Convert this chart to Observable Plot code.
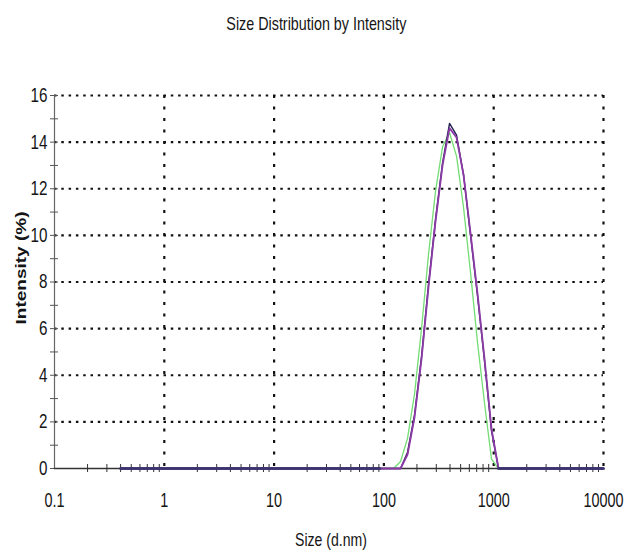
<!DOCTYPE html>
<html>
<head>
<meta charset="utf-8">
<script src="https://cdn.jsdelivr.net/npm/d3@7"></script>
<script src="https://cdn.jsdelivr.net/npm/@observablehq/plot@0.6"></script>
<style>
  html, body { margin: 0; padding: 0; background: #fff; }
  #wrap { width: 624px; height: 553px; position: relative; overflow: hidden; }
  #title { height: 44px; line-height: 48px; text-align: center; padding-left: 8px; }
  #title span { display: inline-block; font-family: "Liberation Sans", Arial, sans-serif; font-size: 19px; color: #151515; transform: scaleX(0.76); }
</style>
</head>
<body>
<div id="wrap">
  <div id="title"><span id="ttl">Size Distribution by Intensity</span></div>
  <div id="chart"></div>
</div>
<script>
// Size classes (d.nm)
const sizes = [0.4, 0.4632, 0.5365, 0.6213, 0.7195, 0.8332, 0.9649, 1.117, 1.294, 1.499,
  1.736, 2.01, 2.328, 2.696, 3.122, 3.615, 4.187, 4.849, 5.615, 6.503,
  7.531, 8.721, 10.1, 11.7, 13.54, 15.69, 18.17, 21.04, 24.36, 28.21,
  32.67, 37.84, 43.82, 50.75, 58.77, 68.06, 78.82, 91.28, 105.7, 122.4,
  141.8, 164.2, 190.1, 220.2, 255.0, 295.3, 342.0, 396.1, 458.7, 531.2,
  615.1, 712.4, 825.0, 955.4, 1106, 1281, 1484, 1718, 1990, 2305,
  2669, 3091, 3580, 4145, 4801, 5560, 6439, 7456, 8635, 10000];

// Intensity (%) per record
const recordNavy = [0,0,0,0,0,0,0,0,0,0, 0,0,0,0,0,0,0,0,0,0, 0,0,0,0,0,0,0,0,0,0,
  0,0,0,0,0,0,0,0,0,0, 0,0.7,2.3,4.8,7.9,10.7,13.1,14.8,14.3,12.6,
  10.0,7.4,4.6,1.6,0,0,0,0,0,0, 0,0,0,0,0,0,0,0,0,0];
const recordPurple = [0,0,0,0,0,0,0,0,0,0, 0,0,0,0,0,0,0,0,0,0, 0,0,0,0,0,0,0,0,0,0,
  0,0,0,0,0,0,0,0,0,0, 0,0.6,2.2,4.7,7.8,10.6,13.0,14.6,14.2,12.6,
  10.1,7.5,4.7,1.7,0,0,0,0,0,0, 0,0,0,0,0,0,0,0,0,0];
const recordGreen = [0,0,0,0,0,0,0,0,0,0, 0,0,0,0,0,0,0,0,0,0, 0,0,0,0,0,0,0,0,0,0,
  0,0,0,0,0,0,0,0,0,0, 0.3,1.3,3.2,6.0,9.2,11.9,13.8,14.4,13.4,11.2,
  8.4,5.4,2.8,0.4,0,0,0,0,0,0, 0,0,0,0,0,0,0,0,0,0];

const xTicks = [0.1, 1, 10, 100, 1000, 10000];
const xTickLabels = ["0.1", "1", "10", "100", "1000", "10000"];
const xGrid = [1, 10, 100, 1000, 10000];
const yTicks = [0, 2, 4, 6, 8, 10, 12, 14, 16];
const yGrid = [2, 4, 6, 8, 10, 12, 14, 16];
const yMinor = [0,1,2,3,4,5,6,7,8,9,10,11,12,13,14,15,16];
const xMinor = [0.1,1,10,100,1000].flatMap(d => [2,3,4,5,6,7,8,9].map(m => m * d));
const xLabel = "Size (d.nm)";
const yLabel = "Intensity (%)";

const series = [
  {name: "green", color: "#74dc74", values: recordGreen, width: 1.3},
  {name: "navy", color: "#20204e", values: recordNavy, width: 1.4},
  {name: "purple", color: "#8b3aa6", values: recordPurple, width: 1.8}
];
const rows = series.flatMap(s => sizes.map((x, i) => ({x, y: s.values[i], s: s.name})));

const font = '"Liberation Sans", Arial, sans-serif';

const chart = Plot.plot({
  width: 624,
  height: 509,
  marginTop: 51,
  marginBottom: 85,
  marginLeft: 54,
  marginRight: 21,
  style: {fontFamily: font, fontSize: "16px", color: "#151515", background: "#fff", overflow: "visible"},
  x: {type: "log", domain: [0.1, 10000]},
  y: {domain: [0, 16]},
  marks: [
    Plot.ruleY(yGrid, {stroke: "#111", strokeWidth: 2.2, strokeDasharray: "2.5,4.8"}),
    Plot.ruleX(xGrid, {stroke: "#111", strokeWidth: 2.2, strokeDasharray: "3,8.5"}),
    Plot.ruleX([0.1], {stroke: "#666", strokeWidth: 1.2}),
    Plot.axisY({ticks: yMinor, tickSize: 8, dx: 4, tickFormat: () => "", stroke: "#555", label: null}),
    Plot.axisY({ticks: yTicks, tickSize: 0, tickPadding: 7, fontSize: 20, label: null}),
    Plot.axisX({ticks: xMinor, tickSize: 8, dy: -4, tickFormat: () => "", stroke: "#333", label: null}),
    Plot.axisX({ticks: xTicks, tickSize: 0, tickPadding: 24, fontSize: 20,
      tickFormat: d => xTickLabels[xTicks.indexOf(d)], label: null}),
    Plot.ruleY([0], {stroke: "#333", strokeWidth: 1.5}),
    ...series.map(s => Plot.line(rows.filter(d => d.s === s.name), {x: "x", y: "y", stroke: s.color, strokeWidth: s.width})),
    Plot.line(rows.filter(d => d.s === "navy" && d.y === 0 && d.x < 100), {x: "x", y: "y", stroke: "#2e2e66", strokeWidth: 3, strokeOpacity: 0.8}),
    Plot.line(rows.filter(d => d.s === "navy" && d.y === 0 && d.x > 1000), {x: "x", y: "y", stroke: "#2e2e66", strokeWidth: 3, strokeOpacity: 0.8}),
    Plot.text([xLabel], {frameAnchor: "bottom", dy: 77, fontSize: 19, text: d => d, dx: 2}),
    Plot.text([yLabel], {frameAnchor: "left", textAnchor: "middle", dx: -33, dy: -14, rotate: -90, fontSize: 15, fontWeight: "bold",
      text: d => d})
  ]
});
document.getElementById("chart").appendChild(chart);

// Narrow the lettering to match the condensed face of the original
function setLen(el, len) {
  el.setAttribute("textLength", len);
  el.setAttribute("lengthAdjust", "spacingAndGlyphs");
}
chart.querySelectorAll('g[aria-label="x-axis tick label"] text').forEach(el => {
  const w = el.getComputedTextLength();
  if (w > 0) setLen(el, w * 0.72);
});
chart.querySelectorAll('g[aria-label="y-axis tick label"] text').forEach(el => {
  const w = el.getComputedTextLength();
  if (w > 0) setLen(el, w * 0.76);
});
chart.querySelectorAll("text").forEach(el => {
  if (el.textContent === xLabel) setLen(el, 72);
  if (el.textContent === yLabel) setLen(el, 113);
});
// title width to match the original (about 180px)
const ttl = document.getElementById("ttl");
ttl.style.transform = "none";
const tw = ttl.getBoundingClientRect().width;
ttl.style.transform = `scaleX(${180 / tw})`;
</script>
</body>
</html>
